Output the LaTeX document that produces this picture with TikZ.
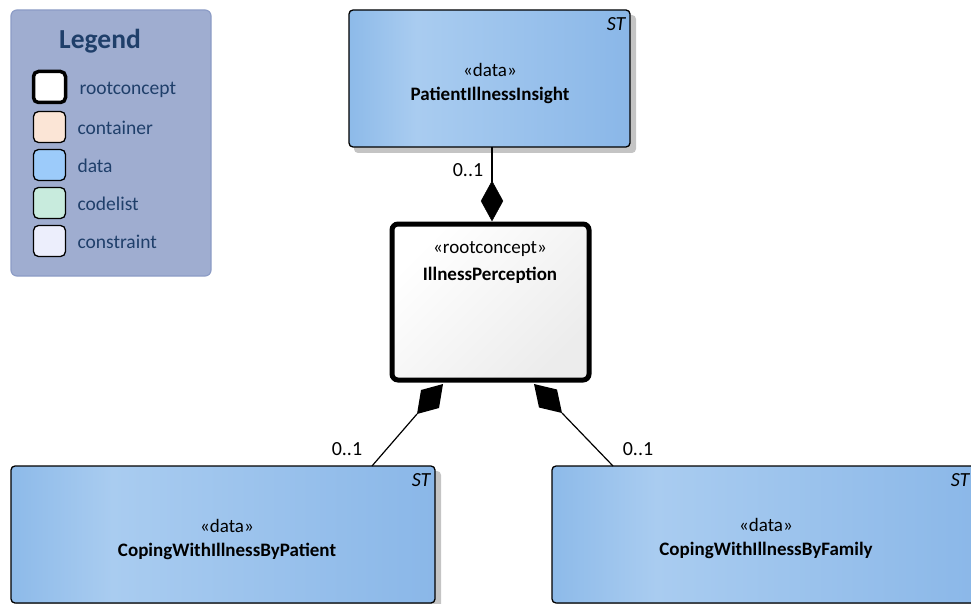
\documentclass[tikz,border=0pt]{standalone}
\usepackage{fontspec}
\setmainfont{Carlito}
\usetikzlibrary{shapes.geometric,calc}
\definecolor{dataA}{HTML}{8DBAE9}
\definecolor{dataB}{HTML}{A9CCF0}
\definecolor{dataC}{HTML}{8AB7E8}
\definecolor{legbg}{HTML}{9FADD0}
\definecolor{legbd}{HTML}{8C9CC6}
\definecolor{legtx}{HTML}{1F3F6A}
\definecolor{shad}{HTML}{C4C4C4}
\definecolor{lcontc}{HTML}{FBE5D6}
\definecolor{ldatac}{HTML}{9CCBFA}
\definecolor{lcodec}{HTML}{C8EBDD}
\definecolor{lconsc}{HTML}{ECEEFC}
\pgfdeclarehorizontalshading{databox}{100bp}{color(0bp)=(dataA); color(25bp)=(dataA); color(37bp)=(dataB); color(75bp)=(dataC); color(100bp)=(dataC)}
\tikzset{
  databox/.style={draw=black, line width=1.3pt, rounded corners=4pt, shading=databox},
  rootbox/.style={draw=black, line width=5pt, rounded corners=6pt, top color=white, bottom color=gray!15, shading angle=45},
  shadowbox/.style={fill=shad, rounded corners=4pt},
  stereo/.style={font=\fontsize{19}{22}\selectfont},
  nametxt/.style={font=\fontsize{19}{22}\selectfont\bfseries},
  sttxt/.style={font=\fontsize{20}{22}\selectfont\itshape, anchor=north east},
  multlbl/.style={font=\fontsize{20}{22}\selectfont},
  legitem/.style={draw=black, line width=1.3pt, rounded corners=5pt, minimum width=32pt, minimum height=31pt, inner sep=0pt},
  legtext/.style={font=\fontsize{19.5}{22}\selectfont, text=legtx, anchor=west},
  comp/.style={draw=black, fill=black, diamond, minimum width=22pt, minimum height=40pt, inner sep=0pt, shape aspect=0.5},
  conn/.style={draw=black, line width=1.2pt}
}
\begin{document}
\begin{tikzpicture}[x=1pt,y=-1pt]
\useasboundingbox (0,0) rectangle (971,604);
\clip (0,0) rectangle (971,604);
% legend
\draw[fill=legbg, draw=legbd, line width=1.2pt, rounded corners=6pt] (11,10) rectangle (211,276);
\node[font=\fontsize{27.5}{30}\selectfont\bfseries, text=legtx] (legtitle) at (100,41) {Legend};
\node[legitem, line width=3.5pt, fill=white] (lrc) at (49.5,87) {};
\node[legitem, fill=lcontc] (lcont) at (49.5,127) {};
\node[legitem, fill=ldatac] (ldata) at (49.5,165) {};
\node[legitem, fill=lcodec] (lcode) at (49.5,203) {};
\node[legitem, fill=lconsc] (lcons) at (49.5,241) {};
\node[legtext] (trc) at (76,90) {rootconcept};
\node[legtext] (tcont) at (74,128) {container};
\node[legtext] (tdata) at (74,166) {data};
\node[legtext] (tcode) at (74,204) {codelist};
\node[legtext] (tcons) at (74,242) {constraint};
% shadows
\fill[shadowbox] (354,15) rectangle (636,153);
\fill[shadowbox] (16,471) rectangle (441,610);
\fill[shadowbox] (557,471) rectangle (980,610);
% top box
\path[databox] (349,10) rectangle (630,147);
\node[draw=none, minimum width=281pt, minimum height=137pt, anchor=north west] (pii) at (349,10) {};
\node[stereo] at (490,70) {«data»};
\node[nametxt] at (490,95) {PatientIllnessInsight};
\node[sttxt] at (629,14) {ST};
% root
\path[rootbox] (392,224) rectangle (589,380);
\node[minimum width=201pt, minimum height=160pt, anchor=north west] (root) at (390,222) {};
\node[stereo] at (490,249) {«rootconcept»};
\node[nametxt] at (490,275) {IllnessPerception};
% bottom left
\path[databox] (11,466) rectangle (435,603);
\node[minimum width=424pt, minimum height=137pt, anchor=north west] (cwp) at (11,466) {};
\node[stereo] at (227,526) {«data»};
\node[nametxt] at (227,551) {CopingWithIllnessByPatient};
\node[sttxt] at (434,470) {ST};
% bottom right
\path[databox] (552,466) rectangle (985,603);
\node[minimum width=433pt, minimum height=137pt, anchor=north west] (cwf) at (552,466) {};
\node[stereo] at (766,525) {«data»};
\node[nametxt] at (766,550) {CopingWithIllnessByFamily};
\node[sttxt] at (973,470) {ST};
% connectors
\coordinate (t1) at (492,147);
\draw[conn] (t1) -- (492,182);
\node[comp] (d1) at (492,201) {};
\node[multlbl] (m1) at (468,170) {0..1};
\coordinate (b1) at (372,466);
\coordinate (b1t) at (443,384);
\coordinate (b1e) at (417,414);
\draw[conn] (b1) -- (b1e);
\fill[black] (b1t) -- ($(b1t)!0.5!(b1e)+(-9,-9)$) -- (b1e) -- ($(b1t)!0.5!(b1e)+(9,9)$) -- cycle;
\node[multlbl] (m2) at (347,449) {0..1};
\coordinate (b2) at (613,466);
\coordinate (b2t) at (534,384);
\coordinate (b2e) at (562,413);
\draw[conn] (b2) -- (b2e);
\fill[black] (b2t) -- ($(b2t)!0.5!(b2e)+(-9,9)$) -- (b2e) -- ($(b2t)!0.5!(b2e)+(9,-9)$) -- cycle;
\node[multlbl] (m3) at (638,449) {0..1};
\end{tikzpicture}
\end{document}
